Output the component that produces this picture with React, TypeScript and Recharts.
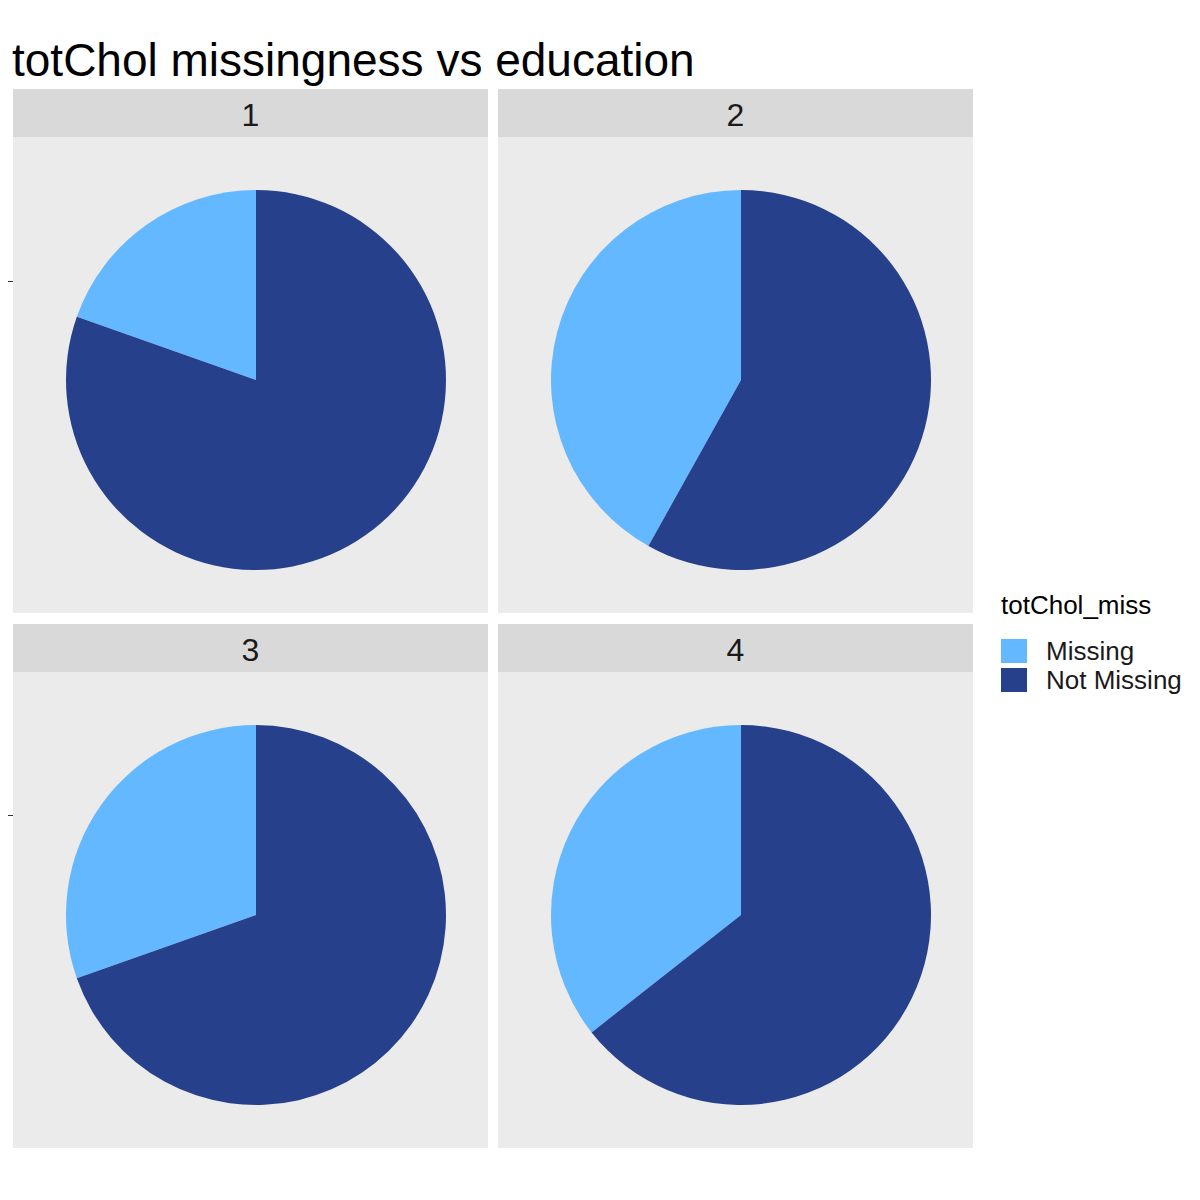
import { PieChart, Pie, Cell } from 'recharts';

const educationLevels = ['1', '2', '3', '4'];
const missingShare = [0.196, 0.419, 0.304, 0.356];
const statusLabels = ['Missing', 'Not Missing'];
const statusColors = ['#63B8FF', '#27408B'];

const panelPos = [
  { left: 13, top: 89 },
  { left: 498, top: 89 },
  { left: 13, top: 624 },
  { left: 498, top: 624 },
];

const font = '"Liberation Sans", Arial, sans-serif';

function Panel({ idx }: { idx: number }) {
  const data = [
    { name: statusLabels[0], value: missingShare[idx] },
    { name: statusLabels[1], value: 1 - missingShare[idx] },
  ];
  const p = panelPos[idx];
  return (
    <div style={{ position: 'absolute', left: p.left, top: p.top, width: 475 }}>
      <div
        style={{
          height: 48,
          background: '#D9D9D9',
          color: '#1A1A1A',
          fontSize: 32,
          lineHeight: '52px',
          textAlign: 'center',
        }}
      >
        {educationLevels[idx]}
      </div>
      <div style={{ height: 476, background: '#EBEBEB' }}>
        <PieChart width={475} height={476}>
          <Pie
            data={data}
            dataKey="value"
            cx={238}
            cy={238}
            outerRadius={190}
            startAngle={90}
            endAngle={450}
            stroke="none"
            isAnimationActive={false}
          >
            {data.map((d, i) => (
              <Cell key={d.name} fill={statusColors[i]} />
            ))}
          </Pie>
        </PieChart>
      </div>
    </div>
  );
}

export default function App() {
  return (
    <div
      style={{
        position: 'absolute',
        left: 0,
        top: 0,
        width: 1200,
        height: 1200,
        background: '#fff',
        fontFamily: font,
      }}
    >
      <div style={{ position: 'absolute', left: 12, top: 32, fontSize: 46, color: '#000', lineHeight: '56px' }}>
        totChol missingness vs education
      </div>
      {educationLevels.map((_, i) => (
        <Panel key={i} idx={i} />
      ))}
      <div style={{ position: 'absolute', left: 8, top: 281, width: 5, height: 1, background: '#333' }} />
      <div style={{ position: 'absolute', left: 8, top: 815, width: 5, height: 1, background: '#333' }} />
      <div style={{ position: 'absolute', left: 1001, top: 590, fontSize: 26, color: '#000' }}>totChol_miss</div>
      {statusLabels.map((s, i) => (
        <div key={s} style={{ position: 'absolute', left: 1001, top: 639 + i * 29, height: 24, display: 'flex', alignItems: 'center' }}>
          <div style={{ width: 26, height: 24, background: statusColors[i] }} />
          <div style={{ marginLeft: 19, fontSize: 26, color: '#1A1A1A' }}>{s}</div>
        </div>
      ))}
    </div>
  );
}
